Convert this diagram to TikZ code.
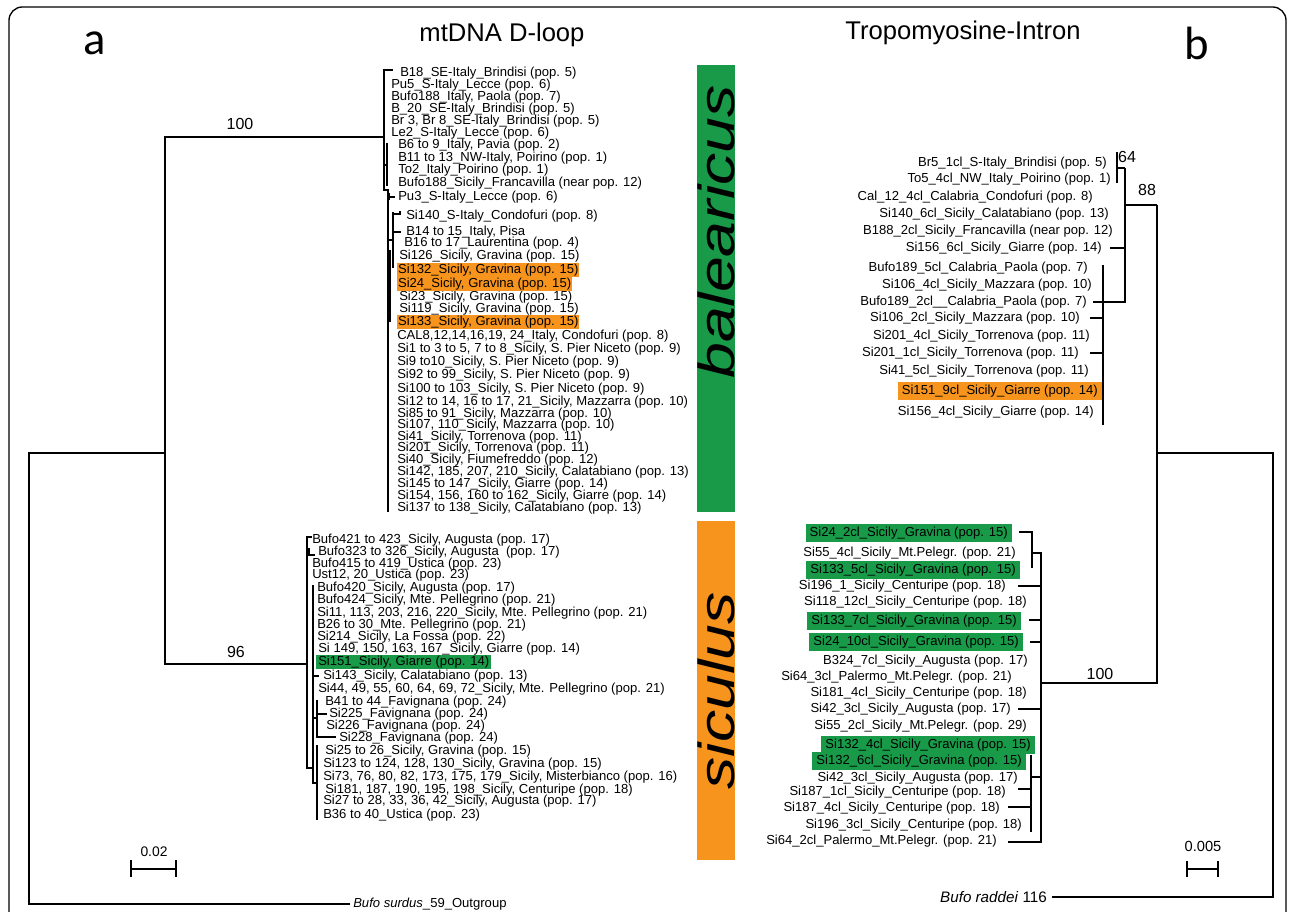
\documentclass[tikz,border=0pt]{standalone}
\usepackage{fontspec}
\setmainfont{Liberation Sans}
\newfontfamily\panelfont{Carlito}
\usetikzlibrary{positioning}
\definecolor{balgreen}{RGB}{24,154,72}
\definecolor{sicorange}{RGB}{247,148,29}
\newcommand{\lblfont}{\fontsize{9.8}{11}\selectfont}

\begin{document}
\begin{tikzpicture}[
    x=0.75pt, y=-0.75pt,
    lbl/.style={font=\lblfont, inner sep=0pt, anchor=west},
    lblr/.style={lbl, anchor=east},
    hlleft/.style={lbl, fill=sicorange, inner xsep=0.6pt, inner ysep=0.8pt},
    hlgreen/.style={lbl, fill=balgreen, inner xsep=1.5pt, inner ysep=0.8pt},
    hlright/.style={lblr, fill=balgreen, inner xsep=3pt, inner ysep=2pt},
    hlrorange/.style={lblr, fill=sicorange, inner xsep=3pt, inner ysep=2pt},
    thinbr/.style={line width=0.8pt},
    thickbr/.style={line width=1.5pt},
    boot/.style={font=\fontsize{12}{13}\selectfont, inner sep=0pt},
    head/.style={font=\fontsize{19.2}{21}\selectfont, inner sep=0pt},
    panel/.style={font=\panelfont\fontsize{35}{36}\selectfont, inner sep=0pt},
    clade/.style={font=\itshape\fontsize{38}{40}\selectfont, inner sep=0pt, rotate=90, xscale=1.27}
]
\useasboundingbox (0,0) rectangle (1290,912);
\clip (0,0) rectangle (1290,912);

% frame
\draw[line width=1pt, rounded corners=10pt] (9,950) -- (9,7) -- (1286,7) -- (1286,950);

% headings
\node[panel] (pa) at (95,43) {a};
\node[panel] (pb) at (1197,43) {b};
\node[head] (hmt) at (502,35) {mtDNA D-loop};
\node[head] (htr) at (963,33) {Tropomyosine-Intron};

% clade bars
\fill[balgreen] (697,65) rectangle (735,512);
\fill[sicorange] (697,521) rectangle (735,860);
\node[clade] (cbal) at (716,232) {balearicus};
\node[clade] (csic) at (716,691) {siculus};

% mtDNA labels, balearicus
\foreach \xx/\yy/\txt [count=\i] in {
    400/73/{B18\_SE-Italy\_Brindisi (pop. 5)},
    391/85/{Pu5\_S-Italy\_Lecce (pop. 6)},
    391/97/{Bufo188\_Italy, Paola (pop. 7)},
    391/109/{B\_20\_SE-Italy\_Brindisi (pop. 5)},
    391/121/{Br 3, Br 8\_SE-Italy\_Brindisi (pop. 5)},
    391/133/{Le2\_S-Italy\_Lecce (pop. 6)},
    398/145/{B6 to 9\_Italy, Pavia (pop. 2)},
    398/158/{B11 to 13\_NW-Italy, Poirino (pop. 1)},
    398/170/{To2\_Italy\_Poirino (pop. 1)},
    398/183/{Bufo188\_Sicily\_Francavilla (near pop. 12)},
    398/197/{Pu3\_S-Italy\_Lecce (pop. 6)},
    406/216/{Si140\_S-Italy\_Condofuri (pop. 8)},
    406/232/{B14 to 15\_Italy, Pisa},
    404/243/{B16 to 17\_Laurentina (pop. 4)},
    399/256/{Si126\_Sicily, Gravina (pop. 15)},
    399/297/{Si23\_Sicily, Gravina (pop. 15)},
    399/309/{Si119\_Sicily, Gravina (pop. 15)},
    397/336/{CAL8,12,14,16,19, 24\_Italy, Condofuri\ (pop. 8)},
    397/349/{Si1 to 3 to 5, 7 to 8\_Sicily, S. Pier Niceto (pop. 9)},
    397/362/{Si9 to10\_Sicily, S. Pier Niceto (pop. 9)},
    397/375/{Si92 to 99\_Sicily, S. Pier Niceto (pop. 9)},
    397/389/{Si100 to 103\_Sicily, S. Pier Niceto (pop. 9)},
    397/402/{Si12\ to 14, 16 to 17, 21\_Sicily, Mazzarra (pop. 10)},
    397/414/{Si85 to 91\_Sicily, Mazzarra (pop. 10)},
    397/425/{Si107, 110\_Sicily, Mazzarra (pop. 10)},
    397/437/{Si41\_Sicily, Torrenova (pop. 11)},
    397/448/{Si201\_Sicily, Torrenova (pop. 11)},
    397/460/{Si40\_Sicily, Fiumefreddo\ (pop. 12)},
    397/472/{Si142, 185, 207, 210\_Sicily, Calatabiano (pop. 13)},
    397/484/{Si145 to 147\_Sicily, Giarre (pop. 14)},
    397/496/{Si154, 156, 160 to 162\_Sicily, Giarre (pop. 14)},
    397/508/{Si137 to 138\_Sicily, Calatabiano (pop. 13)}}
    \node[lbl] (bal\i) at (\xx,\yy) {\txt};
\node[hlleft] (si132) at (397,270) {Si132\_Sicily, Gravina (pop. 15)};
\node[hlleft] (si24) at (397,284) {Si24\_Sicily, Gravina (pop. 15)\hspace{7pt}};
\node[hlleft] (si133) at (397,322) {Si133\_Sicily, Gravina (pop. 15)};

% mtDNA labels, siculus
\foreach \xx/\yy/\txt [count=\i] in {
    312/540/{Bufo421 to 423\_Sicily, Augusta (pop. 17)},
    318/552/{Bufo323 to 326\_Sicily, Augusta\ \ (pop. 17)},
    312/564/{Bufo415 to 419\_Ustica (pop. 23)},
    312/575/{Ust12, 20\_Ustica (pop. 23)},
    317/588/{Bufo420\_Sicily, Augusta\ (pop. 17)},
    317/600/{Bufo424\_Sicily, Mte. Pellegrino (pop. 21)},
    317/613/{Si11, 113, 203, 216, 220\_Sicily, Mte. Pellegrino (pop. 21)},
    317/625/{B26 to 30\_Mte. Pellegrino (pop. 21)},
    317/637/{Si214\_Sicily, La Fossa (pop. 22)},
    318/649/{Si 149, 150, 163, 167\_Sicily, Giarre (pop. 14)},
    323/676/{Si143\_Sicily, Calatabiano (pop. 13)},
    318/689/{Si44, 49, 55, 60, 64, 69, 72\_Sicily, Mte. Pellegrino (pop. 21)},
    325/702/{B41 to 44\_Favignana (pop. 24)},
    329/714/{Si225\_Favignana (pop. 24)},
    326/726/{Si226\_Favignana (pop. 24)},
    339/738/{Si228\_Favignana (pop. 24)},
    325/751/{Si25 to 26\_Sicily, Gravina (pop. 15)},
    323/764/{Si123 to 124, 128, 130\_Sicily, Gravina (pop. 15)},
    323/777/{Si73, 76, 80, 82, 173, 175, 179\_Sicily, Misterbianco (pop. 16)},
    325/790/{Si181, 187, 190, 195, 198\_Sicily, Centuripe (pop. 18)},
    323/801/{Si27 to 28, 33, 36, 42\_Sicily, Augusta (pop. 17)},
    323/815/{B36 to 40\_Ustica (pop. 23)}}
    \node[lbl] (sic\i) at (\xx,\yy) {\txt};
\node[hlgreen] (si151) at (316,662) {Si151\_Sicily, Giarre (pop. 14)};

% mtDNA tree
\coordinate (Lroot) at (29,453);
\coordinate (Lin) at (165,453);
\coordinate (Lbal) at (384,137);
\coordinate (Lsic) at (307,664);
\node[lbl] (outL) at (353,904) {\textit{Bufo surdus}\_59\_Outgroup};
\draw[thinbr] (Lin) -- (Lroot) |- ([xshift=-2pt]outL.west);
\draw[thinbr] (Lbal) -| (Lin |- Lsic) -- (Lsic);
\node[boot] (b100) at (240,124) {100};
\node[boot] (b96) at (236,652) {96};
% balearicus branches
\draw[thinbr] (393,70) -- (384,70) -- (384,190) -- (388,190) -- (388,512);
\draw[thinbr] (387,143) -- (387,186) (384,165) -- (387,165);
\draw[thinbr] (389,193) -- (389,200) (389,197) -- (395,197);
\draw[thinbr] (393,212) -- (393,268) (388,240) -- (393,240);
\draw[thinbr] (393,214) -- (400,214) -- (400,211) (393,232) -- (401,232);
\draw[thinbr] (390,250) -- (390,322) (388,286) -- (390,286);
% siculus branches
\draw[thinbr] (312,537) -- (307,537) -- (307,768) -- (313,768);
\draw[thinbr] (309,548) -- (309,555) -- (315,555);
\draw[thinbr] (313,585) -- (313,783) -- (317,783);
\draw[thinbr] (313,676) -- (319,676);
\draw[thinbr] (317,700) -- (317,737) -- (336,737) (313,718) -- (317,718) (317,714) -- (327,714);
\draw[thinbr] (317,745) -- (317,820);
% scale bar
\node[font=\fontsize{10.4}{11}\selectfont, inner sep=0pt] (sL) at (154,852) {0.02};
\draw[thinbr] (131,869) -- (176,869) (131,860) -- (131,877) (176,860) -- (176,877);

% intron labels, upper clade
\foreach \xx/\yy/\txt [count=\i] in {
    1107/163/{Br5\_1cl\_S-Italy\_Brindisi (pop. 5)},
    1111/179/{To5\_4cl\_NW\_Italy\_Poirino (pop. 1)},
    1093/197/{Cal\_12\_4cl\_Calabria\_Condofuri (pop. 8)},
    1109/214/{Si140\_6cl\_Sicily\_Calatabiano (pop. 13)},
    1113/231/{B188\_2cl\_Sicily\_Francavilla (near pop. 12)},
    1102/248/{Si156\_6cl\_Sicily\_Giarre (pop. 14)},
    1088/268/{Bufo189\_5cl\_Calabria\_Paola (pop. 7)},
    1092/285/{Si106\_4cl\_Sicily\_Mazzara (pop. 10)},
    1087/302/{Bufo189\_2cl\_\_Calabria\_Paola (pop. 7)},
    1080/318/{Si106\_2cl\_Sicily\_Mazzara (pop. 10)},
    1090/336/{Si201\_4cl\_Sicily\_Torrenova (pop. 11)},
    1079/353/{Si201\_1cl\_Sicily\_Torrenova (pop. 11)},
    1089/371/{Si41\_5cl\_Sicily\_Torrenova (pop. 11)},
    1094/412/{Si156\_4cl\_Sicily\_Giarre (pop. 14)}}
    \node[lblr] (tu\i) at (\xx,\yy) {\txt};
\node[hlrorange] (si151cl) at (1102,391) {Si151\_9cl\_Sicily\_Giarre (pop. 14)};

% intron labels, lower clade
\foreach \xx/\yy/\txt [count=\i] in {
    1016/553/{Si55\_4cl\_Sicily\_Mt.Pelegr. (pop. 21)},
    1006/586/{Si196\_1\_Sicily\_Centuripe (pop. 18)},
    1027/602/{Si118\_12cl\_Sicily\_Centuripe (pop. 18)},
    1028/661/{B324\_7cl\_Sicily\_Augusta (pop. 17)},
    1012/677/{Si64\_3cl\_Palermo\_Mt.Pelegr. (pop. 21)},
    1027/693/{Si181\_4cl\_Sicily\_Centuripe (pop. 18)},
    1011/709/{Si42\_3cl\_Sicily\_Augusta (pop. 17)},
    1027/726/{Si55\_2cl\_Sicily\_Mt.Pelegr. (pop. 29)},
    1018/778/{Si42\_3cl\_Sicily\_Augusta\ (pop. 17)},
    1006/792/{Si187\_1cl\_Sicily\_Centuripe (pop. 18)},
    1000/808/{Si187\_4cl\_Sicily\_Centuripe (pop. 18)},
    1022/825/{Si196\_3cl\_Sicily\_Centuripe (pop. 18)},
    997/841/{Si64\_2cl\_Palermo\_Mt.Pelegr. (pop. 21)}}
    \node[lblr] (tl\i) at (\xx,\yy) {\txt};
\node[hlright] (g24a) at (1012,533) {Si24\_2cl\_Sicily\_Gravina (pop. 15)};
\node[hlright] (g133a) at (1020,570) {Si133\_5cl\_Sicily\_Gravina (pop. 15)};
\node[hlright] (g133b) at (1021,621) {Si133\_7cl\_Sicily\_Gravina (pop. 15)};
\node[hlright] (g24b) at (1023,642) {Si24\_10cl\_Sicily\_Gravina (pop. 15)};
\node[hlright] (g132a) at (1035,745) {Si132\_4cl\_Sicily\_Gravina (pop. 15)};
\node[hlright] (g132b) at (1026,761) {Si132\_6cl\_Sicily\_Gravina (pop. 15)};

% intron tree
\coordinate (Rroot) at (1273,453);
\coordinate (Rup) at (1157,205);
\coordinate (Rlo) at (1041,683);
\node[lblr, font=\fontsize{11.4}{12}\selectfont] (outR) at (1047,897) {\textit{Bufo raddei} 116};
\draw[thickbr] (Rup |- Rroot) -- (Rroot) |- ([xshift=4pt]outR.east);
\draw[thickbr] (Rup) -- (Rup |- Rlo) -- (Rlo);
\draw[thickbr] (Rup) -- (1125,205);
\draw[thickbr] (1125,168) -- (1125,302) -- (1093,302);
\draw[thickbr] (1117,152) -- (1117,183) (1117,168) -- (1125,168);
\draw[thickbr] (1110,248) -- (1125,248);
\draw[thickbr] (1103,265) -- (1103,425);
\draw[thickbr] (1090,318) -- (1103,318) (1090,353) -- (1103,353);
\draw[thickbr] (1019,532) -- (1032,532) -- (1032,568);
\draw[thickbr] (1032,553) -- (1041,553) -- (1041,842) -- (1008,842);
\draw[thickbr] (1018,586) -- (1041,586) (1029,620) -- (1041,620) (1030,642) -- (1041,642) (1018,709) -- (1041,709);
\draw[thickbr] (1031,755) -- (1031,832) (1031,777) -- (1041,777);
\draw[thickbr] (1018,789) -- (1031,789) (1008,807) -- (1031,807);
\node[boot] (b64) at (1127,157) {64};
\node[boot] (b88) at (1147,190) {88};
\node[boot] (b100r) at (1100,674) {100};
% scale bar
\node[font=\fontsize{11}{12}\selectfont, inner sep=0pt] (sR) at (1203,846) {0.005};
\draw[thickbr] (1187,869) -- (1218,869) (1187,861) -- (1187,877) (1218,861) -- (1218,877);

\end{tikzpicture}
\end{document}
